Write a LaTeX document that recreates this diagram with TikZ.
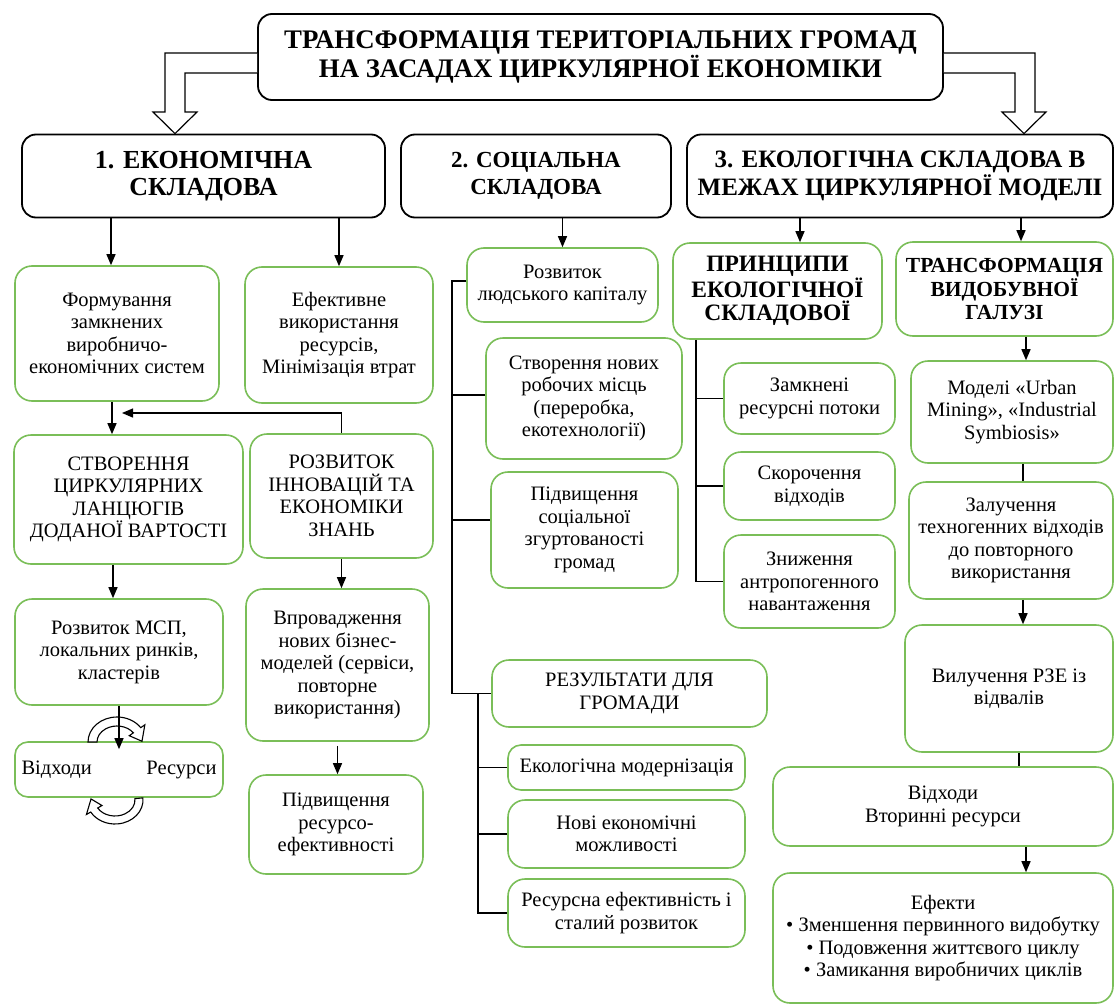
\documentclass[tikz,border=0pt]{standalone}
\usepackage{fontspec}
\newfontfamily\boxfont{Liberation Serif}
\usetikzlibrary{arrows.meta}
\definecolor{boxgreen}{RGB}{122,190,88}

\begin{document}
\begin{tikzpicture}[x=1pt,y=-1pt,line join=miter,
    hbox/.style={draw=black,line width=1.8pt,rounded corners=14pt,align=center,inner sep=2pt,
        font=\boxfont\fontsize{26}{27.5}\selectfont\bfseries},
    gbox/.style={draw=boxgreen,line width=1.6pt,rounded corners=17pt,align=center,inner sep=2pt,
        font=\boxfont\fontsize{20.5}{22.5}\selectfont},
    ghead/.style={gbox,font=\boxfont\fontsize{21.5}{23.5}\selectfont\bfseries},
    arr/.style={line width=1.3pt,-{Triangle[width=9pt,length=11pt]}},
    ln/.style={line width=1.3pt},
    hollow/.style={line width=1.2pt,fill=white},
    cyc/.style={line width=1.1pt,fill=white}]
    \useasboundingbox (0,0) rectangle (1115,1006);
    \clip (0,0) rectangle (1115,1006);

    % top level
    \node[hbox,font=\boxfont\fontsize{26.8}{27.5}\selectfont\bfseries,minimum width=685,minimum height=86] (top) at (600.5,57)
        {ТРАНСФОРМАЦІЯ ТЕРИТОРІАЛЬНИХ ГРОМАД\\НА ЗАСАДАХ ЦИРКУЛЯРНОЇ ЕКОНОМІКИ};
    \node[hbox,minimum width=363,minimum height=83] (econ) at (203.5,176) {1. ЕКОНОМІЧНА\\СКЛАДОВА};
    \node[hbox,font=\boxfont\fontsize{23}{27.5}\selectfont\bfseries,minimum width=270,minimum height=83] (soc) at (536,176)
        {2. СОЦІАЛЬНА\\СКЛАДОВА};
    \node[hbox,font=\boxfont\fontsize{25}{27.5}\selectfont\bfseries,minimum width=426,minimum height=83] (eco) at (900,176)
        {3. ЕКОЛОГІЧНА СКЛАДОВА В\\МЕЖАХ ЦИРКУЛЯРНОЇ МОДЕЛІ};

    % economic column
    \node[gbox,minimum width=204,minimum height=135] (form) at (117,333.5)
        {Формування\\замкнених\\виробничо-\\економічних систем};
    \node[gbox,minimum width=188,minimum height=136] (effuse) at (339,335)
        {Ефективне\\використання\\ресурсів,\\Мінімізація втрат};
    \node[gbox,minimum width=229,minimum height=129] (chain) at (128.5,499.5)
        {СТВОРЕННЯ\\ЦИРКУЛЯРНИХ\\ЛАНЦЮГІВ\\ДОДАНОЇ ВАРТОСТІ};
    \node[gbox,minimum width=183,minimum height=124] (innov) at (341.5,496)
        {РОЗВИТОК\\ІННОВАЦІЙ ТА\\ЕКОНОМІКИ\\ЗНАНЬ};
    \node[gbox,minimum width=208,minimum height=106] (msp) at (119,652)
        {Розвиток МСП,\\локальних ринків,\\кластерів};
    \node[gbox,minimum width=183,minimum height=152] (biz) at (337.5,665)
        {Впровадження\\нових бізнес-\\моделей (сервіси,\\повторне\\використання)};
    \node[gbox,rounded corners=13pt,minimum width=208,minimum height=55,text width=195,align=left] (waste) at (119,769.5)
        {Відходи\hfill Ресурси};
    \node[gbox,minimum width=174,minimum height=99] (reseff) at (336,824.5)
        {Підвищення\\ресурсо-\\ефективності};

    % social column
    \node[gbox,minimum width=191,minimum height=74] (human) at (562.5,285) {Розвиток\\людського капіталу};
    \node[gbox,minimum width=196,minimum height=121] (jobs) at (584,398.5)
        {Створення нових\\робочих місць\\(переробка,\\екотехнології)};
    \node[gbox,minimum width=187,minimum height=116] (cohes) at (584.5,530)
        {Підвищення\\соціальної\\згуртованості\\громад};
    \node[gbox,minimum width=275,minimum height=67] (result) at (629.5,693.5) {РЕЗУЛЬТАТИ ДЛЯ\\ГРОМАДИ};
    \node[gbox,rounded corners=13pt,minimum width=237,minimum height=45] (ecomod) at (626.5,767.5)
        {Екологічна модернізація};
    \node[gbox,minimum width=237,minimum height=68] (newec) at (626.5,834) {Нові економічні\\можливості};
    \node[gbox,minimum width=237,minimum height=68] (sust) at (626.5,913)
        {Ресурсна ефективність і\\сталий розвиток};

    % ecological column
    \node[ghead,font=\boxfont\fontsize{23.5}{23.5}\selectfont\bfseries,minimum width=209,minimum height=96] (princ) at (777.5,291)
        {ПРИНЦИПИ\\ЕКОЛОГІЧНОЇ\\СКЛАДОВОЇ};
    \node[gbox,minimum width=171,minimum height=71] (closed) at (809.5,398.5) {Замкнені\\ресурсні потоки};
    \node[gbox,minimum width=171,minimum height=68] (reduce) at (809.5,486) {Скорочення\\відходів};
    \node[gbox,minimum width=171,minimum height=93] (anthro) at (809.5,581.5)
        {Зниження\\антропогенного\\навантаження};
    \node[ghead,minimum width=217,minimum height=94] (mining) at (1004.5,289)
        {ТРАНСФОРМАЦІЯ\\ВИДОБУВНОЇ\\ГАЛУЗІ};
    \node[gbox,minimum width=202,minimum height=102] (urban) at (1012,412)
        {Моделі «Urban\\Mining», «Industrial\\Symbiosis»};
    \node[gbox,minimum width=204,minimum height=117] (techno) at (1011,540.5)
        {Залучення\\техногенних відходів\\до повторного\\використання};
    \node[gbox,minimum width=208,minimum height=127] (ree) at (1009,688.5) {Вилучення РЗЕ із\\відвалів};
    \node[gbox,minimum width=340,minimum height=79] (second) at (943,806.5) {Відходи\\Вторинні ресурси};
    \node[gbox,minimum width=340,minimum height=130] (effects) at (943,938)
        {Ефекти\\• Зменшення первинного видобутку\\• Подовження життєвого циклу\\• Замикання виробничих циклів};

    % hollow arrows from the title
    \coordinate (la1) at (165,53);
    \coordinate (la2) at (185,73);
    \coordinate (ra1) at (1035,53);
    \coordinate (ra2) at (1015,73);
    \draw[hollow] (top.west |- la1) -- (la1) -- (165,112) -- (153,112) -- (econ.north -| 175,0)
        -- (197,112) -- (185,112) -- (la2) -- (top.west |- la2);
    \draw[hollow] (top.east |- ra1) -- (ra1) -- (1035,112) -- (1046,112) -- (eco.north -| 1024,0)
        -- (1002,112) -- (1015,112) -- (ra2) -- (top.east |- ra2);

    % economic arrows
    \draw[arr] (econ.south -| 111,0) -- (form.north -| 111,0);
    \draw[arr] (econ.south -| effuse.north) -- (effuse.north);
    \draw[arr] (form.south -| 112,0) -- (chain.north -| 112,0);
    \draw[arr] (innov.north) |- (122,413);
    \draw[arr] (chain.south -| 113,0) -- (msp.north -| 113,0);
    \draw[arr] (innov.south) -- (innov.south |- biz.north);
    \draw[arr] (biz.south) ++(0,4) -- (biz.south |- reseff.north);
    \draw[cyc] ([shift={(117,742)}]180:29 and 25) arc[start angle=180,end angle=325,x radius=29,y radius=25]
        -- ([shift={(117,742)}]325:34 and 30) -- ([shift={(117,742)}]358:25 and 21)
        -- ([shift={(117,742)}]325:15 and 11)
        -- ([shift={(117,742)}]325:20 and 16) arc[start angle=325,end angle=180,x radius=20,y radius=16] -- cycle;
    \draw[cyc] ([shift={(115,800)}]-5:28 and 24) arc[start angle=-5,end angle=150,x radius=28,y radius=24]
        -- ([shift={(115,800)}]150:33 and 29) -- ([shift={(115,800)}]183:24 and 20)
        -- ([shift={(115,800)}]150:15 and 11)
        -- ([shift={(115,800)}]150:20 and 16) arc[start angle=150,end angle=-5,x radius=20,y radius=16] -- cycle;
    \draw[arr] (msp.south) -- ([yshift=-8pt]waste.north);

    % social tree
    \coordinate (s1) at (452,281);
    \coordinate (s2) at (478,693.5);
    \draw[arr] (soc.south -| human.north) -- (human.north);
    \draw[ln] (human.west |- s1) -- (s1) |- (result.west);
    \draw[ln] (jobs.west |- 0,395) -- (s1 |- 0,395);
    \draw[ln] (cohes.west |- 0,520) -- (s1 |- 0,520);
    \draw[ln] (s2) |- (sust.west);
    \draw[ln] (ecomod.west) -- (ecomod.west -| s2);
    \draw[ln] (newec.west) -- (newec.west -| s2);

    % ecological tree
    \coordinate (e1) at (696,0);
    \coordinate (r1) at (1023,0);
    \draw[arr] (eco.south -| 800,0) -- (princ.north -| 800,0);
    \draw[arr] (eco.south -| 1021,0) -- (mining.north -| 1021,0);
    \draw[ln] (princ.south -| e1) |- (anthro.west);
    \draw[ln] (closed.west) -- (closed.west -| e1);
    \draw[ln] (reduce.west) -- (reduce.west -| e1);
    \draw[arr] (mining.south -| 1026,0) -- (urban.north -| 1026,0);
    \draw[ln] (urban.south -| r1) -- (techno.north -| r1);
    \draw[arr] (techno.south -| r1) -- (ree.north -| r1);
    \draw[ln] (ree.south -| 1019,0) -- (second.north -| 1019,0);
    \draw[arr] (second.south -| 1026,0) -- (effects.north -| 1026,0);
\end{tikzpicture}
\end{document}
